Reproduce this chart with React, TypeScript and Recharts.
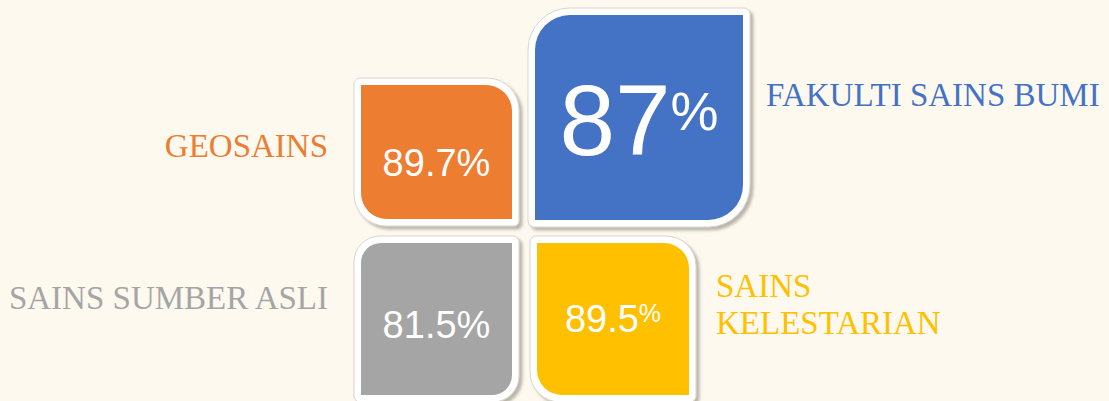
import { ScatterChart, Scatter, XAxis, YAxis } from "recharts";

// four faculty tiles
const categories = ["FAKULTI SAINS BUMI", "GEOSAINS", "SAINS SUMBER ASLI", "SAINS KELESTARIAN"];
const values = [87, 89.7, 81.5, 89.5];
const labelLines = [["FAKULTI SAINS BUMI"], ["GEOSAINS"], ["SAINS SUMBER ASLI"], ["SAINS", "KELESTARIAN"]];
// quadrant of each tile around the centre cross: col -1 left / 1 right, row 1 top / -1 bottom
const cols = [1, -1, -1, 1];
const rows = [1, 1, -1, -1];

const BG = "#FDF9EF";
const BORDER = 7;

interface TileStyle {
  color: string;
  w: number;
  h: number;
  dx: number;
  dy: number;
  outerR: number[]; // tl, tr, br, bl
  innerR: number[];
  valueSize: number;
  valueBase: number; // baseline from top of coloured fill
  pctSize: number;
  pctShift: number;
  labelGap: number;
  labelBase: number[];
}

const styles: TileStyle[] = [
  { color: "#4472C4", w: 222, h: 219, dx: 0, dy: 1, outerR: [42, 6, 42, 6], innerR: [35, 0, 35, 0], valueSize: 100, valueBase: 140, pctSize: 54, pctShift: -25, labelGap: 16, labelBase: [98] },
  { color: "#ED7D31", w: 165, h: 148, dx: 0, dy: 0, outerR: [6, 32, 5, 32], innerR: [0, 26, 0, 26], valueSize: 38, valueBase: 91, pctSize: 38, pctShift: 0, labelGap: 26, labelBase: [79] },
  { color: "#A5A5A5", w: 165, h: 166, dx: 0, dy: 0, outerR: [26, 6, 26, 6], innerR: [20, 0, 20, 0], valueSize: 38, valueBase: 95, pctSize: 38, pctShift: 0, labelGap: 26, labelBase: [73] },
  { color: "#FFC000", w: 166, h: 166, dx: 2, dy: 0, outerR: [6, 30, 6, 30], innerR: [0, 25, 0, 25], valueSize: 38, valueBase: 89, pctSize: 25, pctShift: -10, labelGap: 20, labelBase: [61, 98] },
];

const data = categories.map((name, i) => ({
  name,
  value: values[i],
  col: cols[i],
  row: rows[i],
  idx: i,
}));

function roundedPath(x: number, y: number, w: number, h: number, r: number[]) {
  const [tl, tr, br, bl] = r;
  return `M${x + tl},${y} H${x + w - tr} A${tr},${tr} 0 0 1 ${x + w},${y + tr} V${y + h - br} A${br},${br} 0 0 1 ${x + w - br},${y + h} H${x + bl} A${bl},${bl} 0 0 1 ${x},${y + h - bl} V${y + tl} A${tl},${tl} 0 0 1 ${x + tl},${y} Z`;
}

function Tile(props: any) {
  const { cx, cy, payload } = props;
  const s = styles[payload.idx];
  const x0 = payload.col < 0 ? cx - s.w : cx + s.dx;
  const y0 = payload.row > 0 ? cy - s.h + s.dy : cy + s.dy;
  const fx = x0 + BORDER;
  const fy = y0 + BORDER;
  const fw = s.w - BORDER * 2;
  const fh = s.h - BORDER * 2;
  const num = Number.isInteger(payload.value) ? String(payload.value) : payload.value.toFixed(1);
  const fid = `shadow-${payload.idx}`;
  const left = payload.col < 0;
  const lx = left ? x0 - s.labelGap : x0 + s.w + s.labelGap;

  return (
    <g>
      <defs>
        <filter id={fid} x="-10%" y="-10%" width="130%" height="130%">
          <feDropShadow dx={3} dy={3} stdDeviation={1.8} floodColor="#6b6454" floodOpacity={0.45} />
        </filter>
      </defs>
      <path d={roundedPath(x0, y0, s.w, s.h, s.outerR)} fill="#ffffff" stroke="#d9d5cb" strokeWidth={1} filter={`url(#${fid})`} />
      <path d={roundedPath(fx, fy, fw, fh, s.innerR)} fill={s.color} />
      <text
        x={fx + fw / 2}
        y={fy + s.valueBase}
        textAnchor="middle"
        fill="#ffffff"
        fontFamily="'Liberation Sans', Arial, sans-serif"
        fontSize={s.valueSize}
      >
        {num}
        <tspan fontSize={s.pctSize} dy={s.pctShift}>%</tspan>
      </text>
      {labelLines[payload.idx].map((line, k) => (
        <text
          key={line}
          x={lx}
          y={y0 + s.labelBase[k]}
          textAnchor={left ? "end" : "start"}
          fill={s.color}
          fontFamily="'Liberation Serif', 'Times New Roman', serif"
          fontSize={33}
        >
          {line}
        </text>
      ))}
    </g>
  );
}

export default function App() {
  return (
    <div style={{ position: "fixed", left: 0, top: 0, width: 1109, height: 401, background: BG }}>
      <ScatterChart width={1109} height={401} margin={{ top: 226, right: 581, bottom: 165, left: 519 }}>
        <XAxis type="number" dataKey="col" domain={[-1, 1]} hide />
        <YAxis type="number" dataKey="row" domain={[-1, 1]} hide />
        <Scatter data={data} shape={Tile} isAnimationActive={false} />
      </ScatterChart>
    </div>
  );
}
